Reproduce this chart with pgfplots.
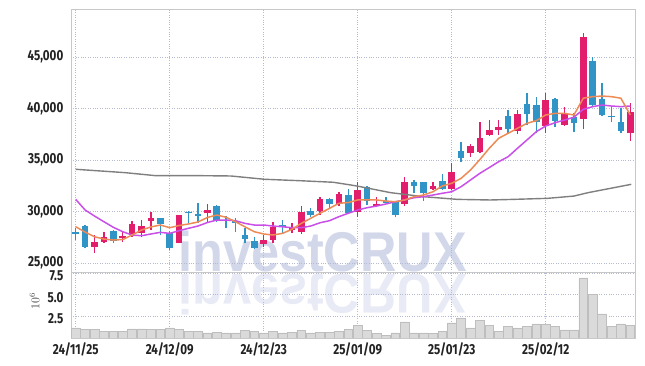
\documentclass[border=0pt]{standalone}
\usepackage{pgfplots}
\usepackage{pgfplotstable}
\pgfplotsset{compat=1.18}
\usepackage{fontspec}
\setmainfont{Fira Sans}[FakeStretch=0.8]
\newfontfamily\wmfont{Liberation Sans}[FakeStretch=0.9]
\definecolor{upc}{RGB}{226,29,107}
\definecolor{dnc}{RGB}{49,148,198}
\definecolor{ma5}{RGB}{238,138,85}
\definecolor{ma20}{RGB}{201,79,232}
\definecolor{malong}{RGB}{127,127,127}
\definecolor{gridc}{RGB}{180,186,210}
\definecolor{framec}{RGB}{200,200,200}
\definecolor{volf}{RGB}{218,218,218}
\definecolor{vold}{RGB}{190,190,190}
\definecolor{wm}{RGB}{205,211,232}
\definecolor{labc}{RGB}{34,34,34}

\pgfplotstableread{
i O H L C
2 26580 27720 25940 27040
3 27070 28040 26990 27500
5 27400 28040 27070 27650
6 27790 29110 27550 28790
7 27880 29170 27550 28590
8 29110 29980 28200 29370
11 26970 29700 26900 29660
14 29830 30730 29010 30150
20 26840 27720 26580 27230
21 27230 29010 26910 28520
23 28200 28910 27880 28520
24 28040 30530 27820 29950
26 30080 31380 29660 31210
28 30730 31860 30530 31670
30 29950 32890 29500 32090
32 30530 31380 30410 30730
35 30730 33320 30560 32860
38 32210 32890 32090 32480
40 32230 34740 32090 33860
42 35650 36550 35320 36380
43 35810 38720 35650 37140
44 37430 38880 37330 37910
45 37910 38880 37430 38230
47 37820 39850 37500 39440
50 38330 41480 37590 40830
52 38400 40180 38300 39530
54 38980 47300 38010 46970
59 37590 40510 36850 39630
}\upcandles

\pgfplotstableread{
i O H L C
0 28050 28400 27230 27850
1 28590 28700 26430 26580
4 28140 28200 26910 27170
9 29340 29370 27720 28760
10 27940 28100 26310 26430
12 29980 30050 28910 29830
13 29760 30800 28910 29560
15 30530 30630 29030 29080
16 29170 29560 28370 29050
17 29050 29340 28040 28850
18 27720 28370 26910 27330
19 27140 27500 26360 26430
22 28690 29170 27880 28500
25 30050 30310 29440 29690
27 31210 31340 30210 30730
29 31600 32180 29760 29830
31 32380 32430 30630 31070
33 31020 31380 30800 30850
34 30950 31020 29440 29710
36 32860 33060 31770 32500
37 32860 32910 31020 31770
39 32990 33640 32090 32230
41 35900 36780 34840 35240
46 39300 39850 37590 38010
48 40440 41480 38400 39440
49 40340 41150 37590 38720
51 40920 41050 38230 38790
53 39150 39530 37690 38620
55 44640 45030 40180 40340
56 40920 42450 39320 39370
57 39270 40180 38660 39150
58 38720 40080 37590 37820
}\dncandles

\begin{document}
\begin{tikzpicture}
\useasboundingbox (0,0) rectangle (645pt,366pt);
% watermark and its reflection
\node[anchor=base west, inner sep=0pt, font=\wmfont\bfseries\fontsize{56}{56}\selectfont, text=wm, opacity=0.9] at (178pt,94pt) {investCRUX};
\node[anchor=base west, inner sep=0pt, yscale=-1, font=\wmfont\bfseries\fontsize{56}{56}\selectfont, text=wm, opacity=0.45] at (178pt,91pt) {investCRUX};

\begin{axis}[
  at={(71pt,94pt)}, anchor=south west, scale only axis,
  width=564pt, height=263pt,
  xmin=-0.5, xmax=59.5, ymin=24130, ymax=49660,
  xtick={0,10,20,30,40,50}, xticklabels={},
  ytick={25000,30000,35000,40000,45000},
  yticklabels={{25,000},{30,000},{35,000},{40,000},{45,000}},
  scaled y ticks=false, scaled x ticks=false,
  grid=major, major grid style={dotted, draw=gridc, line width=0.8pt},
  major tick length=0pt,
  axis line style={draw=framec, line width=0.8pt},
  tick label style={font=\fontsize{14.5}{15}\selectfont\bfseries, text=labc},
  yticklabel style={anchor=east, inner sep=0pt, xshift=-7.5pt},
  clip=true,
]
% wicks
\addplot[forget plot, draw=none, mark=none,
  error bars/.cd, y dir=plus, y explicit, error mark=none,
  error bar style={draw=upc, line width=1.3pt}]
  table[x=i, y=L, y error plus expr={\thisrow{H}-\thisrow{L}}] {\upcandles};
\addplot[forget plot, draw=none, mark=none,
  error bars/.cd, y dir=plus, y explicit, error mark=none,
  error bar style={draw=dnc, line width=1.3pt}]
  table[x=i, y=L, y error plus expr={\thisrow{H}-\thisrow{L}}] {\dncandles};
% bodies
\addplot[forget plot, draw=none, mark=none,
  error bars/.cd, y dir=plus, y explicit, error mark=none,
  error bar style={draw=upc, line width=6.6pt}]
  table[x=i, y=O, y error plus expr={max(\thisrow{C}-\thisrow{O},130)}] {\upcandles};
\addplot[forget plot, draw=none, mark=none,
  error bars/.cd, y dir=plus, y explicit, error mark=none,
  error bar style={draw=dnc, line width=6.6pt}]
  table[x=i, y=C, y error plus expr={max(\thisrow{O}-\thisrow{C},130)}] {\dncandles};
% long moving average
\addplot[malong, line width=1.4pt, mark=none] coordinates {
(0,34100)(5.3,33770)(8.5,33480)(13.3,33480)(16.5,33450)(20.1,33130)(23.9,32990)(27.4,32840)(29.3,32570)(30.3,32410)(33.5,31830)(37,31440)(40.6,31180)(44.1,31120)(46.6,31180)(50.2,31280)(53,31500)(54.5,31830)(59.1,32640)};
% purple moving average
\addplot[ma20, line width=1.5pt, mark=none] coordinates {
(0,31180)(1,30150)(2,29560)(3,29010)(4,28470)(5,28040)(6,27720)(7,27650)(8,27820)(9,27980)(10,27880)(11,28140)(12,28370)(13,28590)(14,28930)(15,29170)(16,29170)(17,29110)(18,28850)(19,28690)(20,28690)(21,28590)(22,28520)(23,28430)(24,28430)(25,28590)(26,28910)(27,29110)(28,29500)(29,29830)(30,30150)(31,30370)(32,30530)(33,30730)(34,30950)(35,31120)(36,31340)(37,31440)(38,31600)(39,31770)(40,31920)(41,32410)(42,33060)(43,33710)(44,34270)(45,34840)(46,35320)(47,36140)(48,36940)(49,37750)(50,38300)(51,38620)(52,38880)(53,39150)(54,39920)(55,40180)(56,40340)(57,40240)(58,40180)(59,40240)};
% orange moving average
\addplot[ma5, line width=1.5pt, mark=none] coordinates {
(0,28520)(1,28010)(2,27550)(3,27330)(4,27230)(5,27280)(6,27720)(7,28200)(8,28500)(9,28690)(10,28430)(11,28640)(12,28790)(13,28980)(14,29420)(15,29660)(16,29440)(17,29010)(18,28520)(19,28040)(20,27820)(21,27720)(22,27880)(23,28270)(24,28850)(25,29340)(26,29830)(27,30310)(28,30800)(29,30870)(30,31120)(31,31120)(32,31120)(33,31020)(34,30950)(35,31120)(36,31440)(37,31600)(38,31920)(39,32480)(40,32740)(41,33220)(42,34030)(43,35050)(44,36140)(45,37110)(46,37590)(47,38080)(48,38560)(49,38820)(50,39370)(51,39530)(52,39530)(53,39370)(54,41000)(55,41150)(56,41210)(57,41150)(58,41000)(59,39370)};
\end{axis}

\begin{axis}[
  at={(71pt,28pt)}, anchor=south west, scale only axis,
  width=564pt, height=66pt,
  xmin=-0.5, xmax=59.5, ymin=0, ymax=7.65,
  xtick={0,10,20,30,40,50},
  xticklabels={24/11/25,24/12/09,24/12/23,25/01/09,25/01/23,25/02/12},
  ytick={2.5,5,7.5}, yticklabels={2.5,5.0,7.5},
  scaled y ticks=false, scaled x ticks=false,
  grid=major, major grid style={dotted, draw=gridc, line width=0.8pt},
  major tick length=0pt,
  axis line style={draw=framec, line width=0.8pt},
  tick label style={font=\fontsize{14.5}{15}\selectfont\bfseries, text=labc},
  yticklabel style={anchor=east, inner sep=0pt, xshift=-7.5pt, yshift=-2.5pt},
  xticklabel style={anchor=north, inner sep=0pt, yshift=-4.5pt},
]
\addplot[ybar, bar width=8.8pt, fill=volf, draw=vold, line width=0.6pt] coordinates {
(0,1.18)(1,0.98)(2,0.98)(3,0.79)(4,0.72)(5,0.79)(6,1.06)(7,1.06)(8,0.98)(9,0.98)(10,1.18)(11,0.98)(12,0.75)(13,0.75)(14,0.60)(15,0.67)(16,0.60)(17,0.60)(18,0.87)(19,0.79)(20,0.60)(21,0.72)(22,0.60)(23,0.67)(24,0.87)(25,0.60)(26,0.67)(27,0.67)(28,0.72)(29,0.98)(30,1.45)(31,0.87)(32,0.49)(33,0.32)(34,0.60)(35,1.87)(36,0.60)(37,0.60)(38,0.49)(39,0.72)(40,1.76)(41,2.34)(42,1.18)(43,2.06)(44,1.45)(45,0.79)(46,1.37)(47,1.18)(48,1.30)(49,1.64)(50,1.53)(51,1.30)(52,0.95)(53,0.95)(54,6.97)(55,5.03)(56,2.80)(57,1.30)(58,1.64)(59,1.48)};
\end{axis}
\node[rotate=90, inner sep=0pt, font=\fontsize{12}{13}\selectfont, text=black!75] at (34.5pt,65pt) {$10^{6}$};
\end{tikzpicture}
\end{document}
